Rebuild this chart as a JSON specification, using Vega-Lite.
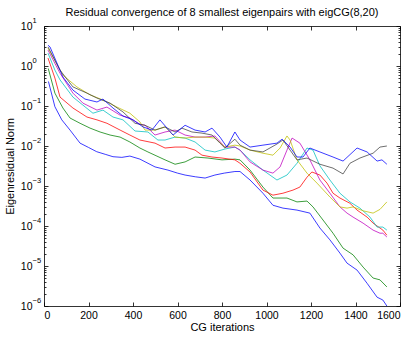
{
  "$schema": "https://vega.github.io/schema/vega-lite/v6.json",
  "width": 356,
  "height": 280,
  "autosize": "none",
  "padding": {"left": 44, "top": 26, "right": 15, "bottom": 31},
  "background": "white",
  "title": {"text": "Residual convergence of 8 smallest eigenpairs with eigCG(8,20)", "fontSize": 11, "fontWeight": "normal", "font": "Liberation Sans", "offset": 2, "dy": 3, "color": "#000"},
  "config": {
    "font": "Liberation Sans",
    "view": {"stroke": null},
    "axis": {"grid": false, "domainColor": "#000", "domainWidth": 0.8, "tickColor": "#000", "tickWidth": 0.8, "labelColor": "#000", "titleColor": "#000", "labelFontSize": 10.5, "titleFontSize": 11, "titleFontWeight": "normal", "labelFont": "Liberation Sans", "titleFont": "Liberation Sans"}
  },
  "data": {"values": [
    {"s":"1","iter":20,"res":0.41},{"s":"1","iter":49,"res":0.096},{"s":"1","iter":80,"res":0.045},{"s":"1","iter":117,"res":0.025},{"s":"1","iter":162,"res":0.0118},{"s":"1","iter":200,"res":0.0092},{"s":"1","iter":237,"res":0.0072},{"s":"1","iter":275,"res":0.0062},{"s":"1","iter":310,"res":0.0054},{"s":"1","iter":350,"res":0.0052},{"s":"1","iter":386,"res":0.0056},{"s":"1","iter":431,"res":0.0047},{"s":"1","iter":499,"res":0.003},{"s":"1","iter":557,"res":0.0025},{"s":"1","iter":600,"res":0.0021},{"s":"1","iter":634,"res":0.00188},{"s":"1","iter":680,"res":0.0017},{"s":"1","iter":724,"res":0.00158},{"s":"1","iter":768,"res":0.00188},{"s":"1","iter":810,"res":0.0021},{"s":"1","iter":858,"res":0.0023},{"s":"1","iter":881,"res":0.0023},{"s":"1","iter":926,"res":0.00141},{"s":"1","iter":984,"res":0.00066},{"s":"1","iter":1029,"res":0.00033},{"s":"1","iter":1074,"res":0.00028},{"s":"1","iter":1137,"res":0.00025},{"s":"1","iter":1195,"res":0.00021},{"s":"1","iter":1240,"res":0.000089},{"s":"1","iter":1285,"res":0.000045},{"s":"1","iter":1330,"res":0.000021},{"s":"1","iter":1362,"res":0.0000118},{"s":"1","iter":1407,"res":0.0000079},{"s":"1","iter":1452,"res":0.0000037},{"s":"1","iter":1497,"res":0.00000166},{"s":"1","iter":1523,"res":0.00000141},{"s":"1","iter":1541,"res":0.000001},
    {"s":"2","iter":19,"res":0.87},{"s":"2","iter":49,"res":0.21},{"s":"2","iter":85,"res":0.089},{"s":"2","iter":117,"res":0.05},{"s":"2","iter":162,"res":0.037},{"s":"2","iter":207,"res":0.028},{"s":"2","iter":252,"res":0.0224},{"s":"2","iter":297,"res":0.0188},{"s":"2","iter":342,"res":0.0167},{"s":"2","iter":386,"res":0.0126},{"s":"2","iter":431,"res":0.0089},{"s":"2","iter":467,"res":0.0071},{"s":"2","iter":544,"res":0.0045},{"s":"2","iter":589,"res":0.0035},{"s":"2","iter":634,"res":0.004},{"s":"2","iter":679,"res":0.0053},{"s":"2","iter":737,"res":0.005},{"s":"2","iter":800,"res":0.0045},{"s":"2","iter":858,"res":0.0047},{"s":"2","iter":881,"res":0.0045},{"s":"2","iter":926,"res":0.0025},{"s":"2","iter":984,"res":0.00094},{"s":"2","iter":1029,"res":0.0005},{"s":"2","iter":1092,"res":0.0005},{"s":"2","iter":1137,"res":0.0004},{"s":"2","iter":1182,"res":0.00042},{"s":"2","iter":1209,"res":0.0003},{"s":"2","iter":1254,"res":0.000141},{"s":"2","iter":1299,"res":0.000066},{"s":"2","iter":1344,"res":0.000028},{"s":"2","iter":1389,"res":0.000019},{"s":"2","iter":1434,"res":0.0000094},{"s":"2","iter":1479,"res":0.000005},{"s":"2","iter":1510,"res":0.0000045},{"s":"2","iter":1541,"res":0.000003},
    {"s":"3","iter":18,"res":1.58},{"s":"3","iter":49,"res":0.5},{"s":"3","iter":72,"res":0.167},{"s":"3","iter":130,"res":0.089},{"s":"3","iter":193,"res":0.053},{"s":"3","iter":238,"res":0.045},{"s":"3","iter":283,"res":0.037},{"s":"3","iter":342,"res":0.025},{"s":"3","iter":386,"res":0.0188},{"s":"3","iter":431,"res":0.0141},{"s":"3","iter":499,"res":0.0118},{"s":"3","iter":544,"res":0.0089},{"s":"3","iter":589,"res":0.0094},{"s":"3","iter":634,"res":0.0094},{"s":"3","iter":679,"res":0.0079},{"s":"3","iter":710,"res":0.0059},{"s":"3","iter":755,"res":0.0053},{"s":"3","iter":800,"res":0.005},{"s":"3","iter":858,"res":0.0045},{"s":"3","iter":881,"res":0.0037},{"s":"3","iter":926,"res":0.00224},{"s":"3","iter":984,"res":0.00079},{"s":"3","iter":1029,"res":0.00059},{"s":"3","iter":1074,"res":0.00066},{"s":"3","iter":1119,"res":0.00079},{"s":"3","iter":1150,"res":0.00094},{"s":"3","iter":1182,"res":0.00166},{"s":"3","iter":1204,"res":0.00224},{"s":"3","iter":1240,"res":0.00188},{"s":"3","iter":1272,"res":0.00118},{"s":"3","iter":1299,"res":0.00066},{"s":"3","iter":1330,"res":0.0005},{"s":"3","iter":1375,"res":0.00037},{"s":"3","iter":1407,"res":0.00025},{"s":"3","iter":1452,"res":0.000167},{"s":"3","iter":1479,"res":0.000118},{"s":"3","iter":1523,"res":0.000079},{"s":"3","iter":1541,"res":0.000059},
    {"s":"4","iter":18,"res":2.1},{"s":"4","iter":49,"res":0.79},{"s":"4","iter":72,"res":0.45},{"s":"4","iter":130,"res":0.167},{"s":"4","iter":175,"res":0.105},{"s":"4","iter":220,"res":0.066},{"s":"4","iter":265,"res":0.079},{"s":"4","iter":310,"res":0.053},{"s":"4","iter":355,"res":0.045},{"s":"4","iter":409,"res":0.0237},{"s":"4","iter":467,"res":0.0224},{"s":"4","iter":512,"res":0.0141},{"s":"4","iter":544,"res":0.0141},{"s":"4","iter":589,"res":0.0167},{"s":"4","iter":634,"res":0.0158},{"s":"4","iter":679,"res":0.0126},{"s":"4","iter":724,"res":0.0079},{"s":"4","iter":768,"res":0.0071},{"s":"4","iter":813,"res":0.0084},{"s":"4","iter":858,"res":0.0094},{"s":"4","iter":881,"res":0.0079},{"s":"4","iter":926,"res":0.0045},{"s":"4","iter":984,"res":0.0025},{"s":"4","iter":1047,"res":0.00141},{"s":"4","iter":1092,"res":0.00188},{"s":"4","iter":1137,"res":0.0037},{"s":"4","iter":1182,"res":0.0089},{"s":"4","iter":1209,"res":0.0079},{"s":"4","iter":1240,"res":0.0032},{"s":"4","iter":1285,"res":0.00141},{"s":"4","iter":1330,"res":0.00066},{"s":"4","iter":1375,"res":0.0004},{"s":"4","iter":1420,"res":0.00028},{"s":"4","iter":1465,"res":0.000167},{"s":"4","iter":1497,"res":0.000094},{"s":"4","iter":1523,"res":0.000094},{"s":"4","iter":1541,"res":0.000079},
    {"s":"5","iter":18,"res":2.5},{"s":"5","iter":72,"res":0.66},{"s":"5","iter":130,"res":0.21},{"s":"5","iter":175,"res":0.118},{"s":"5","iter":238,"res":0.079},{"s":"5","iter":283,"res":0.094},{"s":"5","iter":342,"res":0.059},{"s":"5","iter":386,"res":0.05},{"s":"5","iter":431,"res":0.035},{"s":"5","iter":454,"res":0.033},{"s":"5","iter":499,"res":0.0188},{"s":"5","iter":544,"res":0.0224},{"s":"5","iter":589,"res":0.025},{"s":"5","iter":634,"res":0.0188},{"s":"5","iter":679,"res":0.0167},{"s":"5","iter":724,"res":0.0167},{"s":"5","iter":768,"res":0.0178},{"s":"5","iter":813,"res":0.0094},{"s":"5","iter":858,"res":0.0094},{"s":"5","iter":881,"res":0.0079},{"s":"5","iter":926,"res":0.004},{"s":"5","iter":984,"res":0.0025},{"s":"5","iter":1029,"res":0.0021},{"s":"5","iter":1061,"res":0.003},{"s":"5","iter":1092,"res":0.0079},{"s":"5","iter":1115,"res":0.0158},{"s":"5","iter":1150,"res":0.0118},{"s":"5","iter":1195,"res":0.0045},{"s":"5","iter":1240,"res":0.00141},{"s":"5","iter":1285,"res":0.00066},{"s":"5","iter":1330,"res":0.0003},{"s":"5","iter":1362,"res":0.00021},{"s":"5","iter":1389,"res":0.000167},{"s":"5","iter":1434,"res":0.000118},{"s":"5","iter":1479,"res":0.000079},{"s":"5","iter":1510,"res":0.000066},{"s":"5","iter":1523,"res":0.000066},{"s":"5","iter":1541,"res":0.000053},
    {"s":"6","iter":18,"res":2.8},{"s":"6","iter":85,"res":0.59},{"s":"6","iter":148,"res":0.3},{"s":"6","iter":207,"res":0.19},{"s":"6","iter":265,"res":0.141},{"s":"6","iter":328,"res":0.094},{"s":"6","iter":386,"res":0.066},{"s":"6","iter":431,"res":0.04},{"s":"6","iter":454,"res":0.025},{"s":"6","iter":499,"res":0.025},{"s":"6","iter":544,"res":0.03},{"s":"6","iter":589,"res":0.0167},{"s":"6","iter":634,"res":0.0158},{"s":"6","iter":679,"res":0.0167},{"s":"6","iter":724,"res":0.0167},{"s":"6","iter":768,"res":0.0158},{"s":"6","iter":813,"res":0.0094},{"s":"6","iter":858,"res":0.0105},{"s":"6","iter":881,"res":0.01},{"s":"6","iter":926,"res":0.0079},{"s":"6","iter":984,"res":0.0066},{"s":"6","iter":1029,"res":0.0059},{"s":"6","iter":1061,"res":0.0089},{"s":"6","iter":1092,"res":0.0178},{"s":"6","iter":1106,"res":0.0141},{"s":"6","iter":1137,"res":0.0045},{"s":"6","iter":1182,"res":0.0021},{"s":"6","iter":1227,"res":0.00118},{"s":"6","iter":1285,"res":0.00053},{"s":"6","iter":1330,"res":0.0003},{"s":"6","iter":1362,"res":0.00028},{"s":"6","iter":1389,"res":0.0003},{"s":"6","iter":1434,"res":0.00024},{"s":"6","iter":1479,"res":0.00021},{"s":"6","iter":1510,"res":0.00026},{"s":"6","iter":1541,"res":0.0004},
    {"s":"7","iter":18,"res":3.0},{"s":"7","iter":72,"res":0.79},{"s":"7","iter":130,"res":0.3},{"s":"7","iter":193,"res":0.21},{"s":"7","iter":238,"res":0.158},{"s":"7","iter":297,"res":0.118},{"s":"7","iter":355,"res":0.071},{"s":"7","iter":409,"res":0.037},{"s":"7","iter":454,"res":0.033},{"s":"7","iter":499,"res":0.025},{"s":"7","iter":544,"res":0.03},{"s":"7","iter":589,"res":0.0224},{"s":"7","iter":620,"res":0.028},{"s":"7","iter":665,"res":0.0224},{"s":"7","iter":710,"res":0.021},{"s":"7","iter":755,"res":0.0188},{"s":"7","iter":791,"res":0.0118},{"s":"7","iter":813,"res":0.0089},{"s":"7","iter":858,"res":0.0148},{"s":"7","iter":881,"res":0.0105},{"s":"7","iter":926,"res":0.0079},{"s":"7","iter":984,"res":0.0071},{"s":"7","iter":1047,"res":0.0112},{"s":"7","iter":1074,"res":0.0141},{"s":"7","iter":1106,"res":0.0079},{"s":"7","iter":1137,"res":0.0045},{"s":"7","iter":1182,"res":0.005},{"s":"7","iter":1240,"res":0.0035},{"s":"7","iter":1299,"res":0.0028},{"s":"7","iter":1344,"res":0.002},{"s":"7","iter":1375,"res":0.0037},{"s":"7","iter":1420,"res":0.005},{"s":"7","iter":1479,"res":0.0066},{"s":"7","iter":1510,"res":0.0094},{"s":"7","iter":1541,"res":0.01},
    {"s":"8","iter":18,"res":3.3},{"s":"8","iter":27,"res":3.0},{"s":"8","iter":85,"res":0.53},{"s":"8","iter":130,"res":0.25},{"s":"8","iter":184,"res":0.149},{"s":"8","iter":238,"res":0.126},{"s":"8","iter":265,"res":0.149},{"s":"8","iter":310,"res":0.089},{"s":"8","iter":355,"res":0.056},{"s":"8","iter":400,"res":0.045},{"s":"8","iter":445,"res":0.03},{"s":"8","iter":485,"res":0.025},{"s":"8","iter":521,"res":0.045},{"s":"8","iter":553,"res":0.028},{"s":"8","iter":580,"res":0.0188},{"s":"8","iter":634,"res":0.033},{"s":"8","iter":679,"res":0.025},{"s":"8","iter":724,"res":0.0224},{"s":"8","iter":755,"res":0.028},{"s":"8","iter":791,"res":0.0167},{"s":"8","iter":822,"res":0.0094},{"s":"8","iter":858,"res":0.0224},{"s":"8","iter":881,"res":0.0141},{"s":"8","iter":926,"res":0.0094},{"s":"8","iter":984,"res":0.0105},{"s":"8","iter":1047,"res":0.0118},{"s":"8","iter":1070,"res":0.0148},{"s":"8","iter":1106,"res":0.0094},{"s":"8","iter":1137,"res":0.0053},{"s":"8","iter":1164,"res":0.0053},{"s":"8","iter":1195,"res":0.0089},{"s":"8","iter":1240,"res":0.0071},{"s":"8","iter":1299,"res":0.0053},{"s":"8","iter":1344,"res":0.0042},{"s":"8","iter":1407,"res":0.0089},{"s":"8","iter":1452,"res":0.0071},{"s":"8","iter":1497,"res":0.0042},{"s":"8","iter":1519,"res":0.0045},{"s":"8","iter":1541,"res":0.0035}
  ]},
  "layer": [
    {
      "mark": {"type": "line", "strokeWidth": 0.9, "opacity": 0.85},
      "encoding": {
        "x": {"field": "iter", "type": "quantitative", "scale": {"domain": [0, 1600], "nice": false, "zero": false},
          "axis": {"orient": "bottom", "title": "CG iterations", "values": [0,200,400,600,800,1000,1200,1400,1600], "tickSize": -4, "labelPadding": 8, "titlePadding": 1, "format": "d"}},
        "y": {"field": "res", "type": "quantitative", "scale": {"type": "log", "domain": [0.000001, 10], "nice": false},
          "axis": {"orient": "left", "title": "Eigenresidual Norm", "titlePadding": 5, "labelPadding": 16,
            "values": [0.000001,0.000002,0.000003,0.000004,0.000005,0.000006,0.000007,0.000008,0.000009,0.00001,0.00002,0.00003,0.00004,0.00005,0.00006,0.00007,0.00008,0.00009,0.0001,0.0002,0.0003,0.0004,0.0005,0.0006,0.0007,0.0008,0.0009,0.001,0.002,0.003,0.004,0.005,0.006,0.007,0.008,0.009,0.01,0.02,0.03,0.04,0.05,0.06,0.07,0.08,0.09,0.1,0.2,0.3,0.4,0.5,0.6,0.7,0.8,0.9,1,2,3,4,5,6,7,8,9,10],
            "labelExpr": "indexof([10,1,0.1,0.01,0.001,0.0001,0.00001,0.000001], datum.value) >= 0 ? '10' : ''",
            "tickSize": {"condition": {"test": "indexof([10,1,0.1,0.01,0.001,0.0001,0.00001,0.000001], datum.value) >= 0", "value": -4}, "value": -2}}},
        "color": {"field": "s", "type": "nominal", "legend": null,
          "scale": {"domain": ["1","2","3","4","5","6","7","8"], "range": ["#0000FF","#008000","#FF0000","#00BFBF","#BF00BF","#BFBF00","#404040","#0000FF"]}},
        "detail": {"field": "s"}
      }
    },
    {
      "mark": {"type": "line", "opacity": 0},
      "encoding": {
        "x": {"field": "iter", "type": "quantitative", "scale": {"domain": [0, 1600], "nice": false, "zero": false},
          "axis": {"orient": "top", "title": null, "labels": false, "values": [0,200,400,600,800,1000,1200,1400,1600], "tickSize": -4}},
        "y": {"field": "res", "type": "quantitative", "scale": {"type": "log", "domain": [0.000001, 10], "nice": false},
          "axis": {"orient": "right", "title": null, "labels": false,
            "values": [0.000001,0.000002,0.000003,0.000004,0.000005,0.000006,0.000007,0.000008,0.000009,0.00001,0.00002,0.00003,0.00004,0.00005,0.00006,0.00007,0.00008,0.00009,0.0001,0.0002,0.0003,0.0004,0.0005,0.0006,0.0007,0.0008,0.0009,0.001,0.002,0.003,0.004,0.005,0.006,0.007,0.008,0.009,0.01,0.02,0.03,0.04,0.05,0.06,0.07,0.08,0.09,0.1,0.2,0.3,0.4,0.5,0.6,0.7,0.8,0.9,1,2,3,4,5,6,7,8,9,10],
            "tickSize": {"condition": {"test": "indexof([10,1,0.1,0.01,0.001,0.0001,0.00001,0.000001], datum.value) >= 0", "value": -4}, "value": -2}}},
        "detail": {"field": "s"}
      }
    },
    {
      "data": {"values": [
        {"v": 10, "e": "1"}, {"v": 1, "e": "0"}, {"v": 0.1, "e": "−1"}, {"v": 0.01, "e": "−2"},
        {"v": 0.001, "e": "−3"}, {"v": 0.0001, "e": "−4"}, {"v": 0.00001, "e": "−5"}, {"v": 0.000001, "e": "−6"}
      ]},
      "mark": {"type": "text", "align": "left", "baseline": "middle", "dx": -11.5, "dy": -5, "fontSize": 7.5, "font": "Liberation Sans", "color": "#000"},
      "encoding": {
        "x": {"datum": 0, "type": "quantitative", "axis": null},
        "y": {"field": "v", "type": "quantitative", "axis": null},
        "text": {"field": "e"}
      }
    }
  ],
  "resolve": {"axis": {"x": "independent", "y": "independent"}}
}
